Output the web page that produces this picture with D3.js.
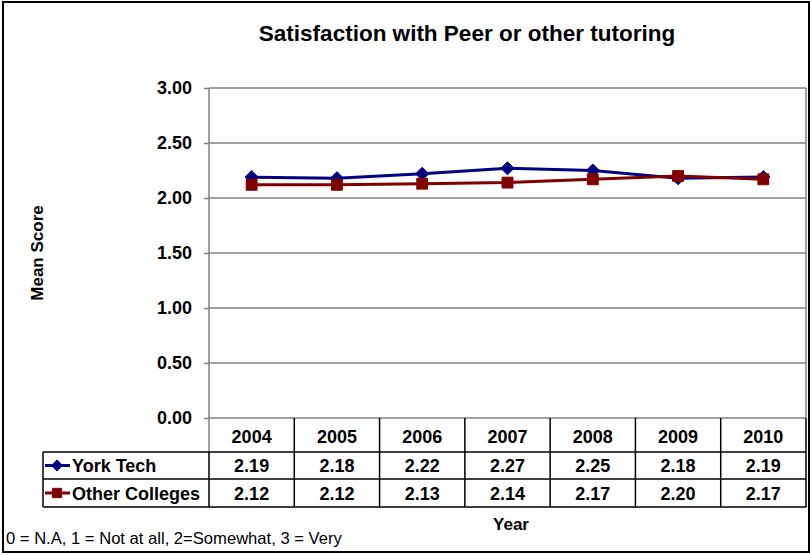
<!DOCTYPE html>
<html>
<head>
<meta charset="utf-8">
<script src="https://cdn.jsdelivr.net/npm/d3@7"></script>
<style>
    body { margin: 0; background: #fff; }
    svg { display: block; font-family: "Liberation Sans", Arial, sans-serif; }
</style>
</head>
<body>
<div id="chart"></div>
<script>
// Chart data
const years = ["2004", "2005", "2006", "2007", "2008", "2009", "2010"];
const yorkTech = [2.19, 2.18, 2.22, 2.27, 2.25, 2.18, 2.19];
const otherColleges = [2.12, 2.12, 2.13, 2.14, 2.17, 2.20, 2.17];
const yTicks = [0, 0.5, 1.0, 1.5, 2.0, 2.5, 3.0];

const series = [
    { name: "York Tech", values: yorkTech, color: "#000080", marker: "diamond" },
    { name: "Other Colleges", values: otherColleges, color: "#800000", marker: "square" }
];

const width = 810;
const height = 555;

// Plot area
const plotLeft = 209, plotRight = 806, plotTop = 88, plotBottom = 418;
const rowH = [34, 27, 28]; // header row, then one row per series
const legendLeft = 43;

const svg = d3.select("#chart")
    .append("svg")
    .attr("width", width)
    .attr("height", height);

// Outer frame
svg.append("rect")
    .attr("x", 3).attr("y", 2)
    .attr("width", width - 4).attr("height", height - 5)
    .attr("fill", "#fff")
    .attr("stroke", "#000")
    .attr("stroke-width", 2);

const x = d3.scaleBand()
    .domain(years)
    .range([plotLeft, plotRight]);

const y = d3.scaleLinear()
    .domain([0, 3])
    .range([plotBottom, plotTop]);

// Title
svg.append("text")
    .attr("x", 467)
    .attr("y", 41)
    .attr("text-anchor", "middle")
    .attr("font-size", 22.5)
    .attr("font-weight", "bold")
    .text("Satisfaction with Peer or other tutoring");

// Gridlines
svg.append("g")
    .selectAll("line")
    .data(yTicks)
    .join("line")
    .attr("x1", plotLeft).attr("x2", plotRight)
    .attr("y1", d => y(d)).attr("y2", d => y(d))
    .attr("stroke", "#808080")
    .attr("stroke-width", 1.5);

// Right edge of plot
svg.append("line")
    .attr("x1", plotRight).attr("x2", plotRight)
    .attr("y1", plotTop).attr("y2", plotBottom)
    .attr("stroke", "#808080")
    .attr("stroke-width", 1.5);

// Y axis
const yAxis = svg.append("g")
    .attr("transform", `translate(${plotLeft},0)`)
    .call(d3.axisLeft(y).tickValues(yTicks).tickFormat(d3.format(".2f")).tickSize(5).tickPadding(12));
yAxis.select(".domain").remove();
yAxis.selectAll(".tick line").attr("stroke", "#808080").attr("stroke-width", 1.5);
yAxis.selectAll(".tick text")
    .attr("font-size", 18)
    .attr("font-weight", "bold")
    .attr("font-family", "Liberation Sans, Arial, sans-serif")
    .attr("fill", "#000");

// Axis line through the header row
svg.append("line")
    .attr("x1", plotLeft).attr("x2", plotLeft)
    .attr("y1", plotTop).attr("y2", plotBottom + rowH[0])
    .attr("stroke", "#808080")
    .attr("stroke-width", 1.5);

// Y axis label
svg.append("text")
    .attr("transform", "translate(43,253) rotate(-90)")
    .attr("text-anchor", "middle")
    .attr("font-size", 17)
    .attr("font-weight", "bold")
    .text("Mean Score");

// Lines and markers
const line = d3.line()
    .x((d, i) => x(years[i]) + x.bandwidth() / 2)
    .y(d => y(d));

series.forEach(s => {
    svg.append("path")
        .datum(s.values)
        .attr("fill", "none")
        .attr("stroke", s.color)
        .attr("stroke-width", 3)
        .attr("d", line);

    const sym = s.marker === "diamond"
        ? d3.symbol().type(d3.symbolDiamond2).size(110)
        : d3.symbol().type(d3.symbolSquare2).size(150);

    svg.append("g")
        .selectAll("path")
        .data(s.values)
        .join("path")
        .attr("transform", (d, i) => `translate(${x(years[i]) + x.bandwidth() / 2},${y(d)})`)
        .attr("d", sym)
        .attr("fill", s.color)
        .attr("stroke", s.color)
        .attr("stroke-width", 1);
});

// Data table
const table = svg.append("g");
const headerTop = plotBottom;
const headerBottom = plotBottom + rowH[0];
const row1Bottom = headerBottom + rowH[1];
const row2Bottom = row1Bottom + rowH[2];

// Header cells
years.forEach(yr => {
    table.append("text")
        .attr("x", x(yr) + x.bandwidth() / 2)
        .attr("y", headerTop + 25)
        .attr("text-anchor", "middle")
        .attr("font-size", 18)
        .attr("font-weight", "bold")
        .text(yr);
});

// Vertical dividers
years.slice(1).forEach(yr => {
    table.append("line")
        .attr("x1", x(yr)).attr("x2", x(yr))
        .attr("y1", headerTop).attr("y2", row2Bottom)
        .attr("stroke", "#000").attr("stroke-width", 1.5);
});
table.append("line")
    .attr("x1", plotRight).attr("x2", plotRight)
    .attr("y1", headerTop).attr("y2", row2Bottom)
    .attr("stroke", "#000").attr("stroke-width", 1.5);
table.append("line")
    .attr("x1", plotLeft).attr("x2", plotLeft)
    .attr("y1", headerBottom).attr("y2", row2Bottom)
    .attr("stroke", "#000").attr("stroke-width", 1.5);
table.append("line")
    .attr("x1", legendLeft).attr("x2", legendLeft)
    .attr("y1", headerBottom).attr("y2", row2Bottom)
    .attr("stroke", "#000").attr("stroke-width", 1.5);

// Horizontal rules
[headerBottom, row1Bottom, row2Bottom].forEach(yy => {
    table.append("line")
        .attr("x1", legendLeft).attr("x2", plotRight)
        .attr("y1", yy).attr("y2", yy)
        .attr("stroke", "#000").attr("stroke-width", 1.5);
});

// Series rows
const rowTops = [headerBottom, row1Bottom];
series.forEach((s, r) => {
    const mid = rowTops[r] + rowH[r + 1] / 2;

    // Legend key
    table.append("line")
        .attr("x1", legendLeft + 2).attr("x2", legendLeft + 27)
        .attr("y1", mid).attr("y2", mid)
        .attr("stroke", s.color).attr("stroke-width", 3);
    const sym = s.marker === "diamond"
        ? d3.symbol().type(d3.symbolDiamond2).size(80)
        : d3.symbol().type(d3.symbolSquare2).size(110);
    table.append("path")
        .attr("transform", `translate(${legendLeft + 14},${mid})`)
        .attr("d", sym)
        .attr("fill", s.color)
        .attr("stroke", s.color);

    table.append("text")
        .attr("x", legendLeft + 29)
        .attr("y", mid + 6.5)
        .attr("font-size", 18)
        .attr("font-weight", "bold")
        .text(s.name);

    s.values.forEach((v, i) => {
        table.append("text")
            .attr("x", x(years[i]) + x.bandwidth() / 2)
            .attr("y", mid + 6.5)
            .attr("text-anchor", "middle")
            .attr("font-size", 18)
            .attr("font-weight", "bold")
            .text(v.toFixed(2));
    });
});

// X axis title
svg.append("text")
    .attr("x", 511)
    .attr("y", 530)
    .attr("text-anchor", "middle")
    .attr("font-size", 17)
    .attr("font-weight", "bold")
    .text("Year");

// Footnote
svg.append("text")
    .attr("x", 6)
    .attr("y", 544)
    .attr("font-size", 16.6)
    .text("0 = N.A, 1 = Not at all, 2=Somewhat, 3 = Very");
</script>
</body>
</html>
